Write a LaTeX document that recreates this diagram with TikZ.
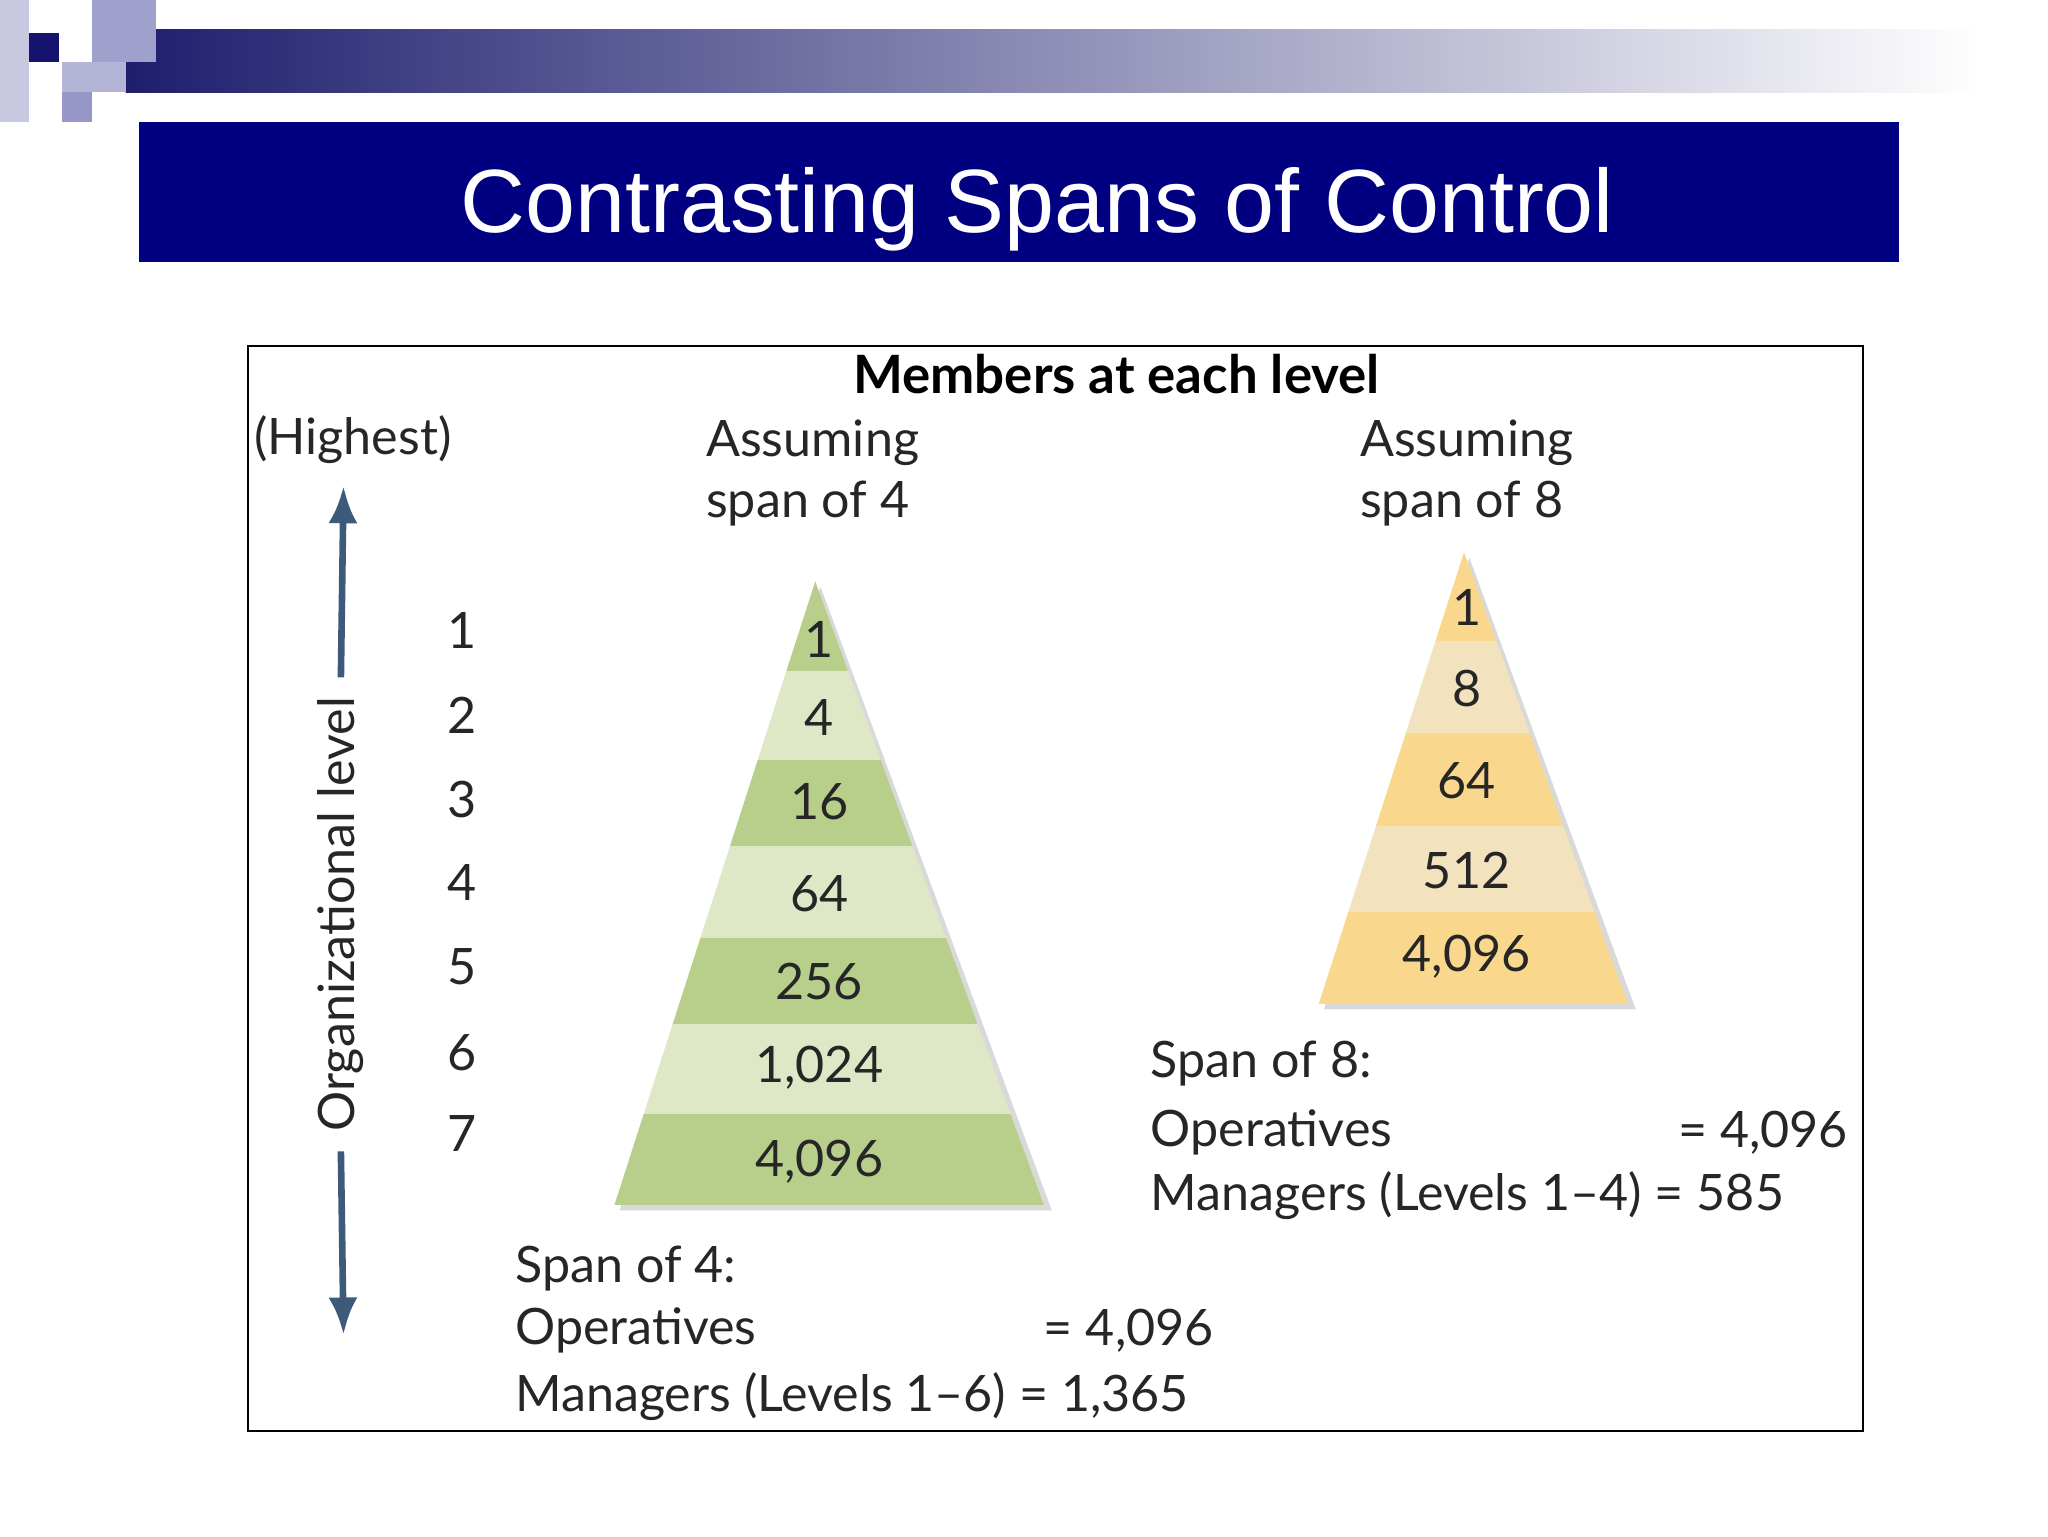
\documentclass[tikz,border=0pt]{standalone}
\usepackage{fontspec}
\usetikzlibrary{arrows.meta}
\setmainfont{Liberation Sans}
\newfontfamily\fut{Lato}
\definecolor{navy}{RGB}{0,0,128}
\definecolor{bardark}{RGB}{30,30,110}
\definecolor{sq1}{RGB}{200,200,225}
\definecolor{sq2}{RGB}{160,160,205}
\definecolor{sq3}{RGB}{150,150,200}
\definecolor{sq4}{RGB}{180,180,215}
\definecolor{sq5}{RGB}{20,20,110}
\definecolor{arr}{RGB}{61,90,122}
\definecolor{gd}{RGB}{184,207,140}\definecolor{gl}{RGB}{223,232,198}
\definecolor{yd}{RGB}{249,215,140}\definecolor{yl}{RGB}{242,226,190}
\begin{document}
\begin{tikzpicture}[x=0.5pt,y=-0.5pt,
  lbl/.style={font=\fut\fontsize{19}{23}\selectfont,text=black!85},
  num/.style={font=\fut\fontsize{19}{23}\selectfont,text=black!85,anchor=center}]
\useasboundingbox (0,0) rectangle (1550,1163);
\fill[white] (0,0) rectangle (1550,1163);
% decoration
\shade[left color=bardark, right color=white] (95,22) rectangle (1500,70);
\fill[sq1] (0,0) rectangle (22,92);
\fill[sq2] (70,0) rectangle (118,47);
\fill[sq3] (47,70) rectangle (70,92);
\fill[sq4] (47,47) rectangle (95,70);
\fill[sq5] (22,25) rectangle (45,47);
% title
\fill[navy] (105,92) rectangle (1437,198);
\node[text=white,font=\fontsize{34}{40}\selectfont] (title) at (785,158) {Contrasting Spans of Control};
% frame
\draw[black,line width=0.7pt] (188,262) rectangle (1410,1083);
\node[font=\fut\bfseries\fontsize{20}{24}\selectfont] (hdr) at (845,283) {Members at each level};
\node[lbl] (hi) at (267,333) {(Highest)};
\node[lbl,align=left] (a4) at (615,358) {Assuming\\span of 4};
\node[lbl,align=left] (a8) at (1110,358) {Assuming\\span of 8};
% arrow
\node[lbl,rotate=90] (org) at (258,692) {Organizational level};
\coordinate (top) at (260,368); \coordinate (bot) at (260,1010);
\draw[arr,line width=2.5pt,-{Latex[length=14pt,width=11pt]}] (org.east) ++(0,-8) -- (top);
\draw[arr,line width=2.5pt,-{Latex[length=14pt,width=11pt]}] (org.west) ++(0,8) -- (bot);
\foreach \n/\y in {1/477,2/541,3/605,4/668,5/732,6/797,7/858}
  \node[num] (L\n) at (350,\y) {\n};
% pyramid 4
\fill[black!15] (621,444) -- (796,916) -- (469,916) -- cycle;
\begin{scope}
\clip (617,440) -- (790,912) -- (465,912) -- cycle;
\foreach \a/\b/\c in {440/508/gd,508/575/gl,575/640/gd,640/710/gl,710/775/gd,775/843/gl,843/912/gd}
  \fill[\c] (400,\a) rectangle (850,\b);
\end{scope}
\foreach \t/\y in {1/484,4/543,16/607,64/676,256/743,{1,024}/808,{4,096}/879}
  \node[num] at (620,\y) {\t};
% pyramid 8
\fill[black!15] (1112,422) -- (1238,764) -- (1002,764) -- cycle;
\begin{scope}
\clip (1108,418) -- (1232,760) -- (998,760) -- cycle;
\foreach \a/\b/\c in {418/485/yd,485/555/yl,555/625/yd,625/690/yl,690/760/yd}
  \fill[\c] (950,\a) rectangle (1300,\b);
\end{scope}
\foreach \t/\y in {1/460,8/521,64/591,512/659,{4,096}/724}
  \node[num] at (1110,\y) {\t};
% summaries
\node[lbl,anchor=west] (s4) at (383,960) {Span of 4:};
\node[lbl,anchor=west] (o4) at (383,1007) {Operatives};
\node[lbl,anchor=west] (o4v) at (783,1007) {= 4,096};
\node[lbl,anchor=west] (m4) at (383,1057) {Managers (Levels 1–6) = 1,365};
\node[lbl,anchor=west] (s8) at (864,805) {Span of 8:};
\node[lbl,anchor=west] (o8) at (864,857) {Operatives};
\node[lbl,anchor=west] (o8v) at (1263,857) {= 4,096};
\node[lbl,anchor=west] (m8) at (864,905) {Managers (Levels 1–4) = 585};
\end{tikzpicture}
\end{document}
